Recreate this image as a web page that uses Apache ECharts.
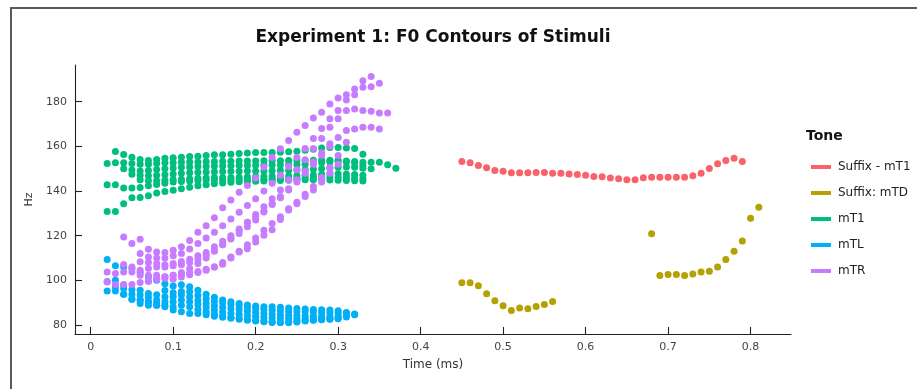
<!DOCTYPE html>
<html>
<head>
<meta charset="utf-8">
<title>Experiment 1: F0 Contours of Stimuli</title>
<script src="https://cdn.jsdelivr.net/npm/echarts@6/dist/echarts.min.js"></script>
<style>
  html, body { margin: 0; padding: 0; background: #ffffff; }
  #chart { width: 917px; height: 389px; }
</style>
</head>
<body>
<div id="chart"></div>
<script>
// F0 tracks are sampled every 10 ms; each track is [start time, Hz values...]
const STEP = 0.01;

const xTicks = [0, 0.1, 0.2, 0.3, 0.4, 0.5, 0.6, 0.7, 0.8];
const yTicks = [80, 100, 120, 140, 160, 180];

const toneNames = ['Suffix - mT1', 'Suffix: mTD', 'mT1', 'mTL', 'mTR'];
const toneColors = ['#f9626b', '#b3a200', '#00bf7d', '#00b0f6', '#c77cff'];

// Suffix - mT1
const suffixT1Starts = [0.45];
const suffixT1Hz = [
  [153.2, 152.6, 151.4, 150.4, 149.2, 148.8, 148.2, 148.2, 148.2, 148.3, 148.3, 148.0, 147.9, 147.6, 147.4,
   147.0, 146.5, 146.4, 145.8, 145.5, 145.0, 145.0, 145.9, 146.2, 146.2, 146.2, 146.2, 146.2, 146.8, 148.0,
   150.1, 152.2, 153.7, 154.7, 153.2]
];

// Suffix: mTD
const suffixTDStarts = [0.45, 0.68, 0.69];
const suffixTDHz = [
  [98.9, 98.9, 97.6, 94.0, 90.9, 88.6, 86.5, 87.6, 87.3, 88.3, 89.2, 90.6],
  [120.9],
  [102.2, 102.6, 102.6, 102.2, 102.9, 103.7, 104.1, 106.0, 109.3, 113.0, 117.6, 127.8, 132.7]
];

// mT1
const mT1Starts = [0.03, 0.02, 0.04, 0.05, 0.06, 0.02, 0.02];
const mT1Hz = [
  [157.7, 156.3, 155.1, 154.1, 153.7, 154.1, 154.7, 154.9, 155.1, 155.4, 155.6, 155.9, 156.2, 156.2, 156.5, 156.8,
   157.0, 157.2, 157.2, 157.2, 157.4, 157.6, 157.8, 158.2, 158.7, 159.2, 159.5, 159.5, 159.2, 159.0, 156.5],
  [152.3, 152.6, 152.6, 152.3, 152.0, 152.0, 152.3, 152.6, 152.6, 152.9, 153.0, 153.0, 153.2, 153.2, 153.3, 153.3,
   153.4, 153.4, 153.4, 153.5, 153.5, 153.5, 153.6, 153.6, 153.7, 153.8, 153.8, 153.8, 153.6, 153.4, 153.2, 152.9,
   152.9, 152.9, 151.7, 150.2],
  [150.0, 149.4, 149.0, 149.2, 149.6, 150.0, 150.3, 150.6, 150.8, 151.0, 151.0, 151.2, 151.2, 151.3, 151.4, 151.4,
   151.5, 151.5, 151.6, 151.6, 151.7, 151.8, 152.0, 152.3, 152.6, 153.0, 153.2, 153.0, 152.5, 151.5, 150.0],
  [147.5, 147.0, 146.8, 147.0, 147.3, 147.6, 148.0, 148.2, 148.4, 148.5, 148.6, 148.7, 148.8, 148.9, 149.0, 149.0,
   149.0, 149.1, 149.2, 149.3, 149.4, 149.5, 149.7, 150.0, 150.3, 150.6, 150.8, 150.6, 150.2],
  [145.0, 144.6, 144.6, 144.8, 145.0, 145.3, 145.5, 145.7, 145.8, 146.0, 146.0, 146.1, 146.2, 146.3, 146.4, 146.5,
   146.6, 146.6, 146.7, 146.8, 147.0, 147.2, 147.4, 147.6, 147.7, 147.6, 147.4, 147.0],
  [142.8, 142.8, 141.3, 141.3, 141.6, 142.4, 142.9, 143.5, 144.0, 144.3, 144.5, 144.7, 144.9, 145.0, 145.0, 145.0,
   145.1, 145.2, 145.2, 145.3, 145.4, 145.5, 145.6, 145.7, 145.8, 146.0, 146.2, 146.3, 146.2, 146.0, 145.8, 145.5],
  [130.8, 130.8, 134.3, 137.0, 137.1, 137.9, 139.1, 139.8, 140.3, 141.0, 141.7, 142.3, 142.8, 143.2, 143.6, 143.9,
   144.1, 144.3, 144.4, 144.5, 144.6, 144.7, 144.8, 144.9, 145.0, 145.0, 145.0, 144.9, 144.8, 144.7, 144.6, 144.5]
];

// mTL
const mTLStarts = [0.02, 0.02, 0.02, 0.03, 0.04, 0.06];
const mTLHz = [
  [109.3, 106.5, 106.0, 105.3, 103.5, 101.5, 100.1, 98.5, 97.5, 98.0, 97.1, 95.6, 93.8, 92.4, 91.2, 90.4,
   89.7, 89.0, 88.5, 88.2, 88.2, 88.0, 87.6, 87.4, 87.2, 87.0, 86.8, 86.7, 86.4, 85.4],
  [99.5, 100.1, 97.9, 95.9, 95.6, 94.1, 93.6, 95.5, 94.5, 95.0, 94.9, 93.2, 91.8, 90.7, 90.0, 89.2,
   88.5, 88.0, 87.4, 87.0, 86.6, 86.3, 86.2, 86.0, 86.0, 85.8, 85.6, 85.5, 85.5, 85.6, 84.9],
  [95.3, 95.3, 96.4, 93.8, 93.4, 92.4, 91.2, 92.7, 92.7, 93.4, 92.7, 91.0, 89.8, 88.8, 88.0, 87.4,
   86.8, 86.2, 85.7, 85.2, 84.8, 84.5, 84.3, 84.2, 84.1, 84.0, 84.0, 84.1, 84.2, 84.4, 84.6],
  [97.0, 93.8, 91.5, 91.2, 90.4, 88.9, 90.4, 90.4, 91.2, 90.4, 89.2, 88.0, 86.9, 86.0, 85.3, 84.8,
   84.3, 83.9, 83.5, 83.2, 83.0, 82.8, 82.8, 82.8, 82.9, 83.0, 83.2, 83.4, 83.6],
  [93.8, 91.5, 89.7, 88.9, 88.9, 88.2, 88.2, 88.9, 88.2, 87.0, 86.0, 85.0, 84.2, 83.5, 83.0, 82.5,
   82.1, 81.8, 81.4, 81.2, 81.2, 81.4, 81.8, 82.2, 82.4, 82.6, 82.8],
  [91.2, 90.4, 89.7, 89.0, 86.7, 86.0, 85.2, 85.2, 84.6, 84.0, 83.5, 83.0, 82.6, 82.2, 81.8, 81.5,
   81.2, 81.1, 81.3, 81.6, 82.0, 82.3, 82.5, 82.7, 83.0]
];

// mTR
const mTRStarts = [0.04, 0.06, 0.02, 0.04, 0.06, 0.02, 0.07];
const mTRHz = [
  [119.4, 116.5, 118.4, 113.9, 112.7, 112.5, 113.5, 115.0, 117.9, 121.5, 124.5, 128.0, 132.5, 136.0, 139.5, 142.5,
   145.8, 150.7, 155.0, 158.9, 162.6, 166.3, 169.3, 172.7, 175.2, 178.9, 181.6, 183.1, 185.7, 189.4, 191.2, 188.2],
  [112.0, 110.5, 110.0, 110.0, 111.0, 112.0, 114.0, 116.5, 119.0, 121.5, 124.5, 127.5, 130.5, 133.5, 136.5, 140.0,
   143.5, 147.0, 151.0, 155.0, 159.0, 163.5, 168.0, 172.3, 176.0, 180.7, 183.1, 186.4, 186.7],
  [99.3, 98.2, 98.2, 98.2, 99.0, 99.6, 100.5, 101.6, 102.3, 103.5, 105.3, 107.5, 110.0, 113.0, 116.0, 119.0,
   122.4, 126.0, 129.5, 133.0, 136.5, 140.5, 145.0, 149.5, 154.0, 159.0, 163.5, 168.5, 172.3, 176.0, 176.7, 176.0,
   175.7, 174.9, 174.9],
  [107.1, 106.0, 108.3, 108.0, 107.5, 107.0, 107.5, 108.5, 109.5, 111.0, 112.5, 115.0, 117.5, 120.0, 123.0, 126.0,
   128.5, 131.0, 134.0, 137.0, 140.5, 144.0, 148.0, 152.0, 156.0, 160.0, 164.0, 167.1, 167.8, 168.5, 168.5, 167.8],
  [102.3, 102.3, 102.3, 101.6, 102.3, 103.0, 103.5, 104.0, 105.0, 106.0, 107.2, 110.0, 112.7, 114.2, 117.2, 120.2,
   122.7, 127.2, 132.1, 135.0, 138.5, 142.0, 146.0, 150.5, 155.9, 161.8],
  [103.8, 103.1, 103.8, 103.8, 104.5, 105.3, 106.0, 106.0, 106.5, 107.0, 108.0, 109.5, 111.5, 113.5, 116.0, 118.5,
   121.0, 124.0, 127.0, 130.6, 134.3, 137.5, 141.0, 145.0, 149.0, 153.0, 157.0, 161.1],
  [99.6, 100.5, 101.0, 100.5, 101.5, 102.5, 103.5, 104.5, 106.0, 108.0, 110.5, 113.0, 116.0, 119.0, 122.4, 125.5,
   128.5, 131.5, 134.3, 137.5, 140.5, 144.0, 148.0, 152.0]
];

// Turn tracks into [time, Hz] points
function trackPoints(starts, tracks) {
  const pts = [];
  tracks.forEach((hz, k) => {
    hz.forEach((v, i) => {
      pts.push([+(starts[k] + i * STEP).toFixed(3), v]);
    });
  });
  return pts;
}

const toneData = [
  trackPoints(suffixT1Starts, suffixT1Hz),
  trackPoints(suffixTDStarts, suffixTDHz),
  trackPoints(mT1Starts, mT1Hz),
  trackPoints(mTLStarts, mTLHz),
  trackPoints(mTRStarts, mTRHz)
];

const FONT = 'DejaVu Sans';
const chart = echarts.init(document.getElementById('chart'), null, { renderer: 'canvas' });

chart.setOption({
  backgroundColor: '#ffffff',
  animation: false,
  textStyle: { fontFamily: FONT },
  grid: { left: 75, right: 126, top: 65, bottom: 55, containLabel: false },
  xAxis: {
    type: 'value',
    min: -0.019,
    max: 0.849,
    name: 'Time (ms)',
    nameLocation: 'middle',
    nameGap: 25,
    nameTextStyle: { fontFamily: FONT, fontSize: 12, color: '#333333' },
    axisLine: { show: true, onZero: false, lineStyle: { color: '#222222', width: 1.1 } },
    axisTick: { show: true, inside: true, length: 7, customValues: xTicks, lineStyle: { color: '#222222', width: 1.1 } },
    axisLabel: {
      customValues: xTicks, margin: 8, fontFamily: FONT, fontSize: 11, color: '#444444',
      formatter: v => (v === 0 ? '0' : String(+v.toFixed(1)))
    },
    splitLine: { show: false }
  },
  yAxis: {
    type: 'value',
    min: 76,
    max: 196.4,
    name: 'Hz',
    nameLocation: 'middle',
    nameGap: 35,
    nameRotate: 90,
    nameTextStyle: { fontFamily: FONT, fontSize: 11, color: '#333333' },
    axisLine: { show: true, onZero: false, lineStyle: { color: '#222222', width: 1.1 } },
    axisTick: { show: true, inside: true, length: 7, customValues: yTicks, lineStyle: { color: '#222222', width: 1.1 } },
    axisLabel: { customValues: yTicks, margin: 8, fontFamily: FONT, fontSize: 11, color: '#444444' },
    splitLine: { show: false }
  },
  legend: {
    orient: 'vertical',
    left: 806,
    top: 155,
    icon: 'rect',
    itemWidth: 20,
    itemHeight: 4,
    itemGap: 12,
    data: toneNames,
    textStyle: { fontFamily: FONT, fontSize: 12, color: '#222222', lineHeight: 14, padding: [0, 0, 0, 2] }
  },
  graphic: [
    {
      type: 'rect', silent: true, z: 0,
      shape: { x: 11, y: 8, width: 1200, height: 600 },
      style: { fill: 'none', stroke: '#5a5a5a', lineWidth: 2 }
    },
    {
      type: 'text', silent: true,
      x: 433, y: 38,
      style: {
        text: 'Experiment 1: F0 Contours of Stimuli',
        fontFamily: FONT, fontSize: 17, fontWeight: 'bold', fill: '#111111',
        align: 'center', verticalAlign: 'middle'
      }
    },
    {
      type: 'text', silent: true,
      x: 806, y: 136,
      style: {
        text: 'Tone', fontFamily: FONT, fontSize: 14, fontWeight: 'bold', fill: '#111111',
        align: 'left', verticalAlign: 'middle'
      }
    }
  ],
  series: toneNames.map((name, i) => ({
    name: name,
    type: 'scatter',
    symbol: 'circle',
    symbolSize: 7,
    itemStyle: { color: toneColors[i], opacity: 1 },
    emphasis: { disabled: true },
    data: toneData[i]
  }))
});
</script>
</body>
</html>
